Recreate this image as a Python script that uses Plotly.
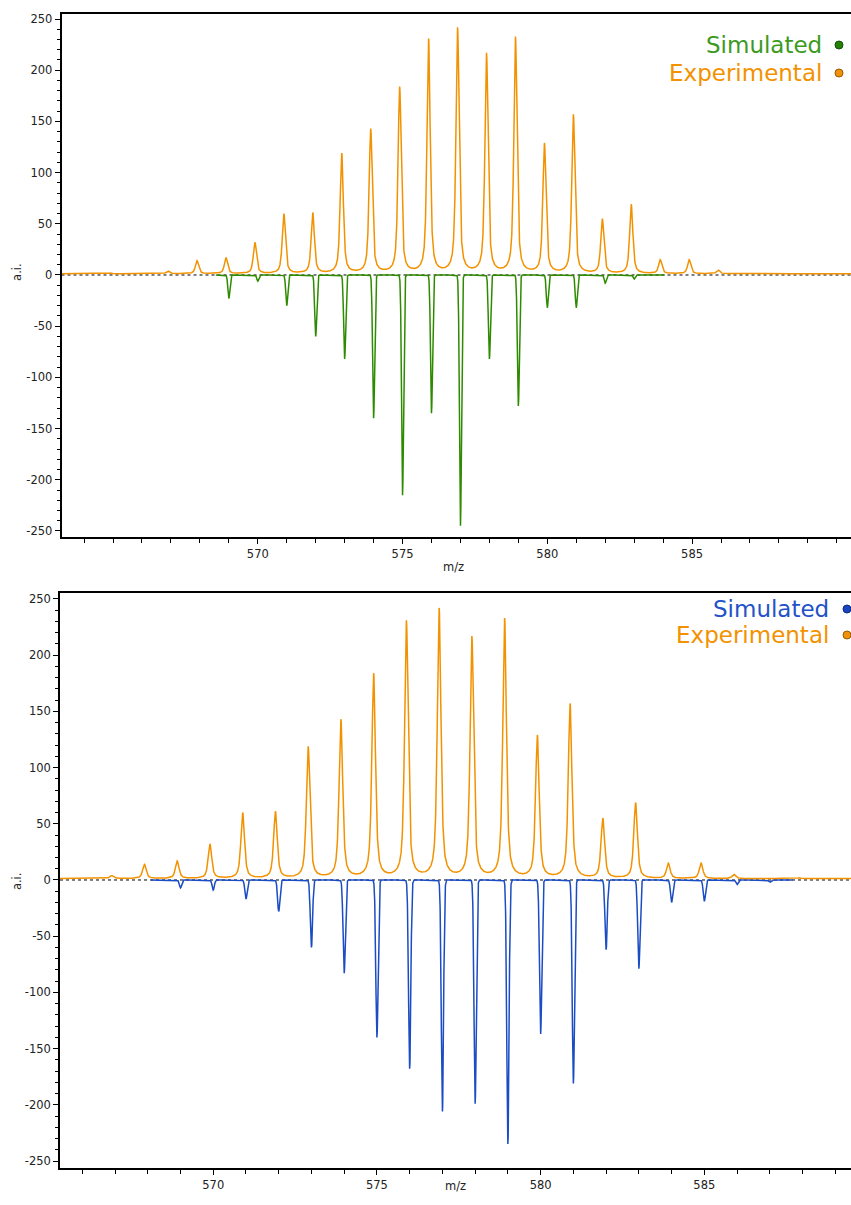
import numpy as np
import plotly.graph_objects as go

# ---------------- data ----------------
exp_mz = [564.9, 566.9, 567.9, 568.9, 569.9, 570.9, 571.9, 572.9, 573.9, 574.9,
          575.9, 576.9, 577.9, 578.9, 579.9, 580.9, 581.9, 582.9, 583.9, 584.9,
          585.9, 586.9, 587.9]
exp_int = [2, 4, 14, 17, 32, 60, 61, 119, 143, 184,
           231, 242, 217, 233, 129, 157, 55, 69, 15, 15,
           5, 2, 2]
exp_baseline = 1.2

sim_top_mz = [569, 570, 571, 572, 573, 574, 575, 576, 577, 578, 579, 580, 581, 582, 583]
sim_top_int = [-23, -6, -30, -60, -82, -140, -215, -135, -245, -82, -128, -32, -32, -8, -4]
sim_top_span = [568.55, 584.05]

sim_bot_mz = [569, 570, 571, 572, 573, 574, 575, 576, 577, 578, 579, 580, 581, 582,
              583, 584, 585, 586, 587]
sim_bot_int = [-7, -9, -17, -28, -60, -83, -140, -168, -206, -199, -235, -137, -181, -62,
               -79, -20, -19, -4, -2]
sim_bot_span = [568.1, 587.7]

x_ticks = [570, 575, 580, 585]
x_ticktext = ["570", "575", "580", "585"]
y_ticks = [-250, -200, -150, -100, -50, 0, 50, 100, 150, 200, 250]
y_ticktext = ["-250", "-200", "-150", "-100", "-50", "0", "50", "100", "150", "200", "250"]

top_xrange = [563.22, 590.49]
top_yrange = [-255.9, 254.9]
bot_xrange = [565.32, 589.48]
bot_yrange = [-256.2, 255.3]

# ---------------- styles ----------------
ORANGE = "#F39200"
GREEN = "#2E8B00"
GREEN_TXT = "#3C9A1E"
BLUE = "#1A4CC4"
BLUE_TXT = "#2352C8"
FONT = "DejaVu Sans"

# ---------------- profiles from peak lists ----------------
def pvoigt(x, c, w, eta):
    d = (np.asarray(x) - c) / w
    return eta / (1 + 4 * d ** 2) + (1 - eta) * np.exp(-4 * np.log(2) * d ** 2)

EXP_W, EXP_ETA = 0.13, 0.65
mz_e = np.array(exp_mz, float)
h_e = np.array(exp_int, float) - exp_baseline
K = np.array([[pvoigt(a, b, EXP_W, EXP_ETA) for b in mz_e] for a in mz_e])
amp_e = np.clip(np.linalg.solve(K, h_e), 0, None)
x_exp = np.arange(563.0, 590.8, 0.005)
y_exp = exp_baseline + sum(a * pvoigt(x_exp, c, EXP_W, EXP_ETA) for a, c in zip(amp_e, mz_e))

SIM_SIG = 0.034
def sim_profile(mz, inten, span):
    x = np.arange(span[0], span[1], 0.003)
    y = sum(i * np.exp(-0.5 * ((x - c) / SIM_SIG) ** 2) for c, i in zip(mz, inten))
    return x, y

x_st, y_st = sim_profile(sim_top_mz, sim_top_int, sim_top_span)
x_sb, y_sb = sim_profile(sim_bot_mz, sim_bot_int, sim_bot_span)

# ---------------- figure ----------------
fig = go.Figure()
fig.add_trace(go.Scatter(x=x_st, y=y_st, mode="lines", line=dict(color=GREEN, width=1.5),
                         xaxis="x", yaxis="y", hoverinfo="skip", showlegend=False))
fig.add_trace(go.Scatter(x=x_exp, y=y_exp, mode="lines", line=dict(color=ORANGE, width=1.5),
                         xaxis="x", yaxis="y", hoverinfo="skip", showlegend=False))
fig.add_trace(go.Scatter(x=x_sb, y=y_sb, mode="lines", line=dict(color=BLUE, width=1.5),
                         xaxis="x2", yaxis="y2", hoverinfo="skip", showlegend=False))
fig.add_trace(go.Scatter(x=x_exp, y=y_exp, mode="lines", line=dict(color=ORANGE, width=1.5),
                         xaxis="x2", yaxis="y2", hoverinfo="skip", showlegend=False))

W, H = 851, 1205
L, R, T, B = 60, 0, 14, 37
PW, PH = W - L - R, H - T - B

def px(xp):
    return (xp - L) / PW

def py(yp):
    return (H - B - yp) / PH

tickfont = dict(family=FONT, size=11.5, color="#222")
common_x = dict(showline=True, linecolor="black", linewidth=1.5, mirror=True,
                ticks="outside", ticklen=5, tickwidth=1, tickcolor="black",
                tickvals=x_ticks, ticktext=x_ticktext, tickfont=tickfont,
                showgrid=False, zeroline=False,
                minor=dict(dtick=1, tick0=570, ticks="outside", ticklen=4,
                           tickcolor="black", tickwidth=1, showgrid=False))
common_y = dict(showline=True, linecolor="black", linewidth=1.5, mirror=False,
                ticks="outside", ticklen=5, tickwidth=1, tickcolor="black",
                tickvals=y_ticks, ticktext=y_ticktext, tickfont=tickfont,
                showgrid=False, zeroline=False,
                minor=dict(dtick=10, tick0=0, ticks="outside", ticklen=3,
                           tickcolor="black", tickwidth=1, showgrid=False))

fig.update_layout(
    width=W, height=H,
    margin=dict(l=L, r=R, t=T, b=B, pad=0),
    paper_bgcolor="white", plot_bgcolor="white",
    showlegend=False,
    xaxis=dict(domain=[px(61.5), 1], range=top_xrange, anchor="y", **common_x),
    yaxis=dict(domain=[py(537), py(14)], range=top_yrange, anchor="x", **common_y),
    xaxis2=dict(domain=[0, 1], range=bot_xrange, anchor="y2", **common_x),
    yaxis2=dict(domain=[0, py(593)], range=bot_yrange, anchor="x2", **common_y),
)

# dotted zero lines
for xr, yr in (("x", "y"), ("x2", "y2")):
    fig.add_shape(type="line", xref=f"{xr} domain", yref=yr, x0=0, x1=1, y0=0, y1=0,
                  line=dict(color="black", width=1, dash="dot"), layer="below")

# axis titles
fig.add_annotation(text="m/z", xref="paper", yref="paper", x=px(453), y=py(567),
                   showarrow=False, font=dict(family=FONT, size=11.5, color="#222"))
fig.add_annotation(text="m/z", xref="paper", yref="paper", x=px(455), y=py(1195),
                   showarrow=False, font=dict(family=FONT, size=11.5, color="#222"))
fig.add_annotation(text="a.i.", xref="paper", yref="y", x=px(17), y=3, textangle=-90,
                   showarrow=False, xanchor="center", font=dict(family=FONT, size=11.5, color="#222"))
fig.add_annotation(text="a.i.", xref="paper", yref="y2", x=px(17), y=-1, textangle=-90,
                   showarrow=False, xanchor="center", font=dict(family=FONT, size=11.5, color="#222"))

# custom legends (text then dot on the right)
def legend_item(text, color, dot_fill, dot_line, x_right, y_c, x_dot):
    fig.add_annotation(text=text, xref="paper", yref="paper", x=px(x_right), y=py(y_c),
                       xanchor="right", yanchor="middle", showarrow=False,
                       font=dict(family=FONT, size=23, color=color))
    fig.add_shape(type="circle", xref="paper", yref="paper",
                  xsizemode="pixel", ysizemode="pixel",
                  xanchor=px(x_dot), yanchor=py(y_c),
                  x0=-4, x1=4, y0=-4, y1=4,
                  fillcolor=dot_fill, line=dict(color=dot_line, width=1))

legend_item("Simulated", GREEN_TXT, "#238000", "#16500a", 824, 45, 839)
legend_item("Experimental", ORANGE, "#F0900A", "#9a5a00", 824, 73, 839)
legend_item("Simulated", BLUE_TXT, "#1A44C0", "#0e2a80", 831, 609, 847)
legend_item("Experimental", ORANGE, "#F0900A", "#9a5a00", 831, 635, 847)

fig.write_html("out.html")
